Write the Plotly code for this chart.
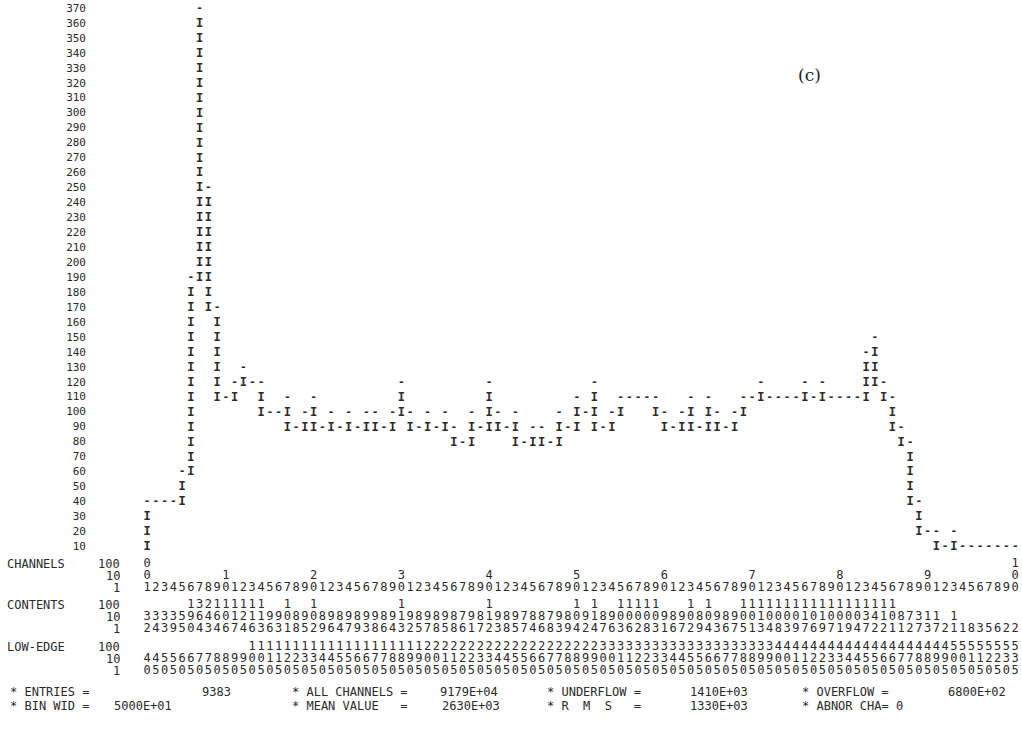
import math
import plotly.graph_objects as go

# ---------------- data ----------------
channels = list(range(1, 101))
contents = [32, 34, 33, 39, 55, 190, 364, 243, 164, 106,
            117, 124, 116, 113, 96, 93, 101, 88, 95, 102,
            89, 96, 84, 97, 89, 93, 98, 86, 94, 113,
            92, 85, 97, 88, 95, 88, 76, 91, 87, 112,
            93, 88, 95, 77, 84, 86, 78, 93, 89, 104,
            92, 114, 87, 96, 103, 106, 102, 108, 103, 91,
            86, 97, 102, 89, 104, 93, 86, 97, 105, 101,
            113, 104, 108, 103, 109, 117, 106, 119, 107, 101,
            109, 104, 137, 142, 112, 101, 81, 72, 37, 13,
            17, 2, 11, 1, 8, 3, 5, 6, 2, 2]
x_low = 40
bin_width = 5
row_step = 10
row_labels = [str(v) for v in range(370, 0, -10)]
stat_entries = "9383"
stat_all_channels = "9179E+04"
stat_underflow = "1410E+03"
stat_overflow = "6800E+02"
stat_bin_wid = "5000E+01"
stat_mean = "2630E+03"
stat_rms = "1330E+03"
stat_abnor = "0"
panel_label = "(c)"

# ---------------- layout helpers ----------------
W, H = 1022, 737
X0, DX = 147.0, 8.77          # pixel of channel 1, pixels per channel
Y_TOP, DY = 9.0, 14.95        # pixel of top row, pixels per row
NROWS = len(row_labels)

def px_to_x(px):
    return (px - X0) / DX + 1

def py_to_y(py):
    return NROWS - (py - Y_TOP) / DY

def pxr(px):
    return px / W

def pyr(py):
    return 1 - py / H

FONT = "DejaVu Sans Mono"
INK = "#2a2a2a"
FS = 12

# ---------------- printer-style histogram ----------------
tops = [math.ceil(c / row_step) if c > 0 else 0 for c in contents]
bx, by, bt = [], [], []
n = len(contents)
for i in range(n):
    left = tops[i - 1] if i > 0 else 0
    right = tops[i + 1] if i < n - 1 else 0
    lo = max(1, min(left, right))
    for r in range(lo, tops[i]):
        bx.append(channels[i]); by.append(r); bt.append("I")
    if tops[i] >= 1:
        bx.append(channels[i]); by.append(tops[i]); bt.append("-")

fig = go.Figure()
fig.add_trace(go.Scatter(x=bx, y=by, text=bt, mode="text",
                         textfont=dict(family="Liberation Mono", size=12, color=INK, weight="bold"),
                         hoverinfo="skip", showlegend=False))

# y-axis labels
fig.add_trace(go.Scatter(x=[px_to_x(86)] * NROWS,
                         y=[NROWS - k for k in range(NROWS)],
                         text=row_labels, mode="text", textposition="middle left",
                         textfont=dict(family=FONT, size=11, color=INK),
                         hoverinfo="skip", showlegend=False))

# ---------------- digit rows ----------------
def digit_rows(values, always_tens):
    h, t, u = [], [], []
    for v in values:
        v = int(round(v))
        h.append(str(v // 100 % 10) if v >= 100 else " ")
        t.append(str(v // 10 % 10) if (v >= 10 or always_tens) else " ")
        u.append(str(v % 10))
    return h, t, u

ch_h = ["0" if c == 1 else (str(c // 100) if c % 100 == 0 else " ") for c in channels]
ch_t = ["0" if c == 1 else (str(c // 10 % 10) if c % 10 == 0 else " ") for c in channels]
ch_u = [str(c % 10) for c in channels]

ct_h, ct_t, ct_u = digit_rows(contents, False)
low_edges = [x_low + bin_width * (c - 1) for c in channels]
le_h, le_t, le_u = digit_rows(low_edges, True)

blocks = [
    ("CHANNELS", [ch_h, ch_t, ch_u], 564),
    ("CONTENTS", [ct_h, ct_t, ct_u], 605),
    ("LOW-EDGE", [le_h, le_t, le_u], 647),
]
ann = []
for name, rows, py0 in blocks:
    for k, (digs, lab) in enumerate(zip(rows, ["100", "10", "1"])):
        py = py0 + k * 12
        fig.add_trace(go.Scatter(x=channels, y=[py_to_y(py)] * len(channels),
                                 text=digs, mode="text",
                                 textfont=dict(family=FONT, size=FS, color=INK),
                                 hoverinfo="skip", showlegend=False))
        ann.append(dict(x=pxr(122), y=pyr(py), text=lab, xanchor="right"))
    ann.append(dict(x=pxr(5), y=pyr(py0), text=name, xanchor="left"))

stat_items = [
    (8, 692, "* ENTRIES ="), (200, 692, stat_entries),
    (290, 692, "* ALL CHANNELS ="), (438, 692, stat_all_channels),
    (545, 692, "* UNDERFLOW ="), (688, 692, stat_underflow),
    (800, 692, "* OVERFLOW ="), (946, 692, stat_overflow),
    (8, 706, "* BIN WID ="), (112, 706, stat_bin_wid),
    (290, 706, "* MEAN VALUE   ="), (440, 706, stat_mean),
    (545, 706, "* R  M  S   ="), (688, 706, stat_rms),
    (800, 706, "* ABNOR CHA= " + stat_abnor),
]
for px, py, s in stat_items:
    ann.append(dict(x=pxr(px), y=pyr(py), text=s, xanchor="left"))

annotations = [dict(xref="paper", yref="paper", showarrow=False, yanchor="middle",
                    font=dict(family=FONT, size=FS, color=INK), **a) for a in ann]
annotations.append(dict(xref="paper", yref="paper", x=pxr(809), y=pyr(75),
                        text=panel_label, showarrow=False, xanchor="center", yanchor="middle",
                        font=dict(family="DejaVu Serif", size=17, color="#222")))

fig.update_layout(
    width=W, height=H,
    margin=dict(l=0, r=0, t=0, b=0),
    paper_bgcolor="white", plot_bgcolor="white",
    xaxis=dict(range=[px_to_x(0), px_to_x(W)], visible=False, fixedrange=True),
    yaxis=dict(range=[py_to_y(H), py_to_y(0)], visible=False, fixedrange=True),
    annotations=annotations,
)
fig.write_html("out.html", config={"displayModeBar": False, "staticPlot": True},
               post_script="document.body.style.margin='0px';document.body.style.overflow='hidden';")
